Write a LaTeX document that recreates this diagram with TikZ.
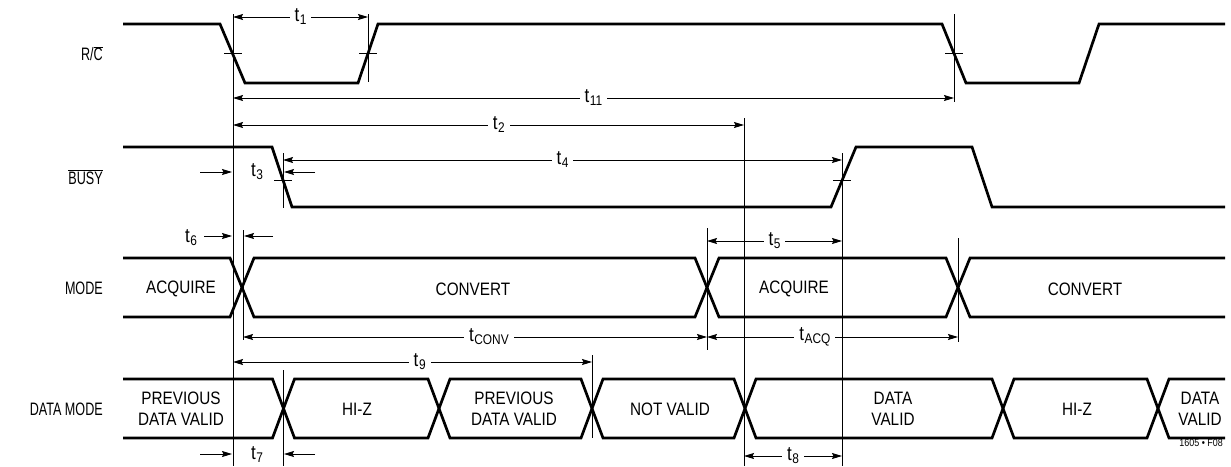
\documentclass[tikz,border=0pt]{standalone}
\usepackage{fontspec}
\setmainfont{Liberation Sans}[FakeStretch=0.85]
\newfontfamily\namefont{Liberation Sans}[FakeStretch=0.7]
\usetikzlibrary{arrows.meta}
\newcommand{\tlab}[1]{{\fontsize{20}{20}\selectfont t}\kern0.6pt\raisebox{-3pt}{\fontsize{14}{14}\selectfont #1}}
\begin{document}
\begin{tikzpicture}[x=1pt,y=-1pt,
  sig/.style={line width=2.7pt, line join=miter},
  thinline/.style={line width=0.9pt},
  dim/.style={line width=0.9pt, {Stealth[length=10pt,width=6pt,inset=1.5pt]}-{Stealth[length=10pt,width=6pt,inset=1.5pt]}},
  rarr/.style={line width=0.9pt, -{Stealth[length=10pt,width=6pt,inset=1.5pt]}},
  lbl/.style={font=\fontsize{18}{21}\selectfont, inner sep=0pt, align=center},
  dl/.style={font=\fontsize{18}{21}\selectfont, fill=white, inner xsep=5pt, inner ysep=0pt},
  sl/.style={font=\namefont\fontsize{18}{21}\selectfont, inner sep=0pt, anchor=east}]
\useasboundingbox (0,0) rectangle (1231,466);

% signal names
\node[sl] (rc) at (103,53.5) {R/$\overline{\mbox{C}}$};
\node[sl] (busy) at (103,177) {$\overline{\mbox{BUSY}}$};
\node[sl] (mode) at (103,288) {MODE};
\node[sl] (dmode) at (103,409) {DATA MODE};

% R/C
\draw[sig] (123,24) -- (220,24) -- (245,83) -- (358,83) -- (378,24) -- (942,24) -- (966,83) -- (1079,83) -- (1099,24) -- (1225,24);
% BUSY
\draw[sig] (123,147) -- (272,147) -- (292,207) -- (831,207) -- (856,147) -- (972,147) -- (992,207) -- (1225,207);
% MODE bus
\draw[sig] (123,258) -- (230,258) -- (254,317) -- (695,317) -- (719,258) -- (946,258) -- (970,317) -- (1225,317);
\draw[sig] (123,317) -- (230,317) -- (254,258) -- (695,258) -- (719,317) -- (946,317) -- (970,258) -- (1225,258);
% DATA MODE bus
\draw[sig] (123,379) -- (272.5,379) -- (294.5,438) -- (428,438) -- (450,379) -- (581,379) -- (603,438) -- (734,438) -- (756,379) -- (992,379) -- (1014,438) -- (1147,438) -- (1169,379) -- (1225,379);
\draw[sig] (123,438) -- (272.5,438) -- (294.5,379) -- (428,379) -- (450,438) -- (581,438) -- (603,379) -- (734,379) -- (756,438) -- (992,438) -- (1014,379) -- (1147,379) -- (1169,438) -- (1225,438);

% reference lines
\draw[thinline] (233,14) -- (233,466);
\draw[thinline] (368,14) -- (368,82);
\draw[thinline] (954,14) -- (954,102);
\draw[thinline] (283,153) -- (283,208);
\draw[thinline] (744,118) -- (744,466);
\draw[thinline] (842,153) -- (842,466);
\draw[thinline] (243,230) -- (243,340);
\draw[thinline] (707,228) -- (707,350);
\draw[thinline] (958,238) -- (958,342);
\draw[thinline] (592,355) -- (592,438);
\draw[thinline] (283,370) -- (283,466);

% ticks
\draw[thinline] (224,53.5) -- (242,53.5);
\draw[thinline] (359,53.5) -- (377,53.5);
\draw[thinline] (945,53.5) -- (963,53.5);
\draw[thinline] (274,180) -- (292,180);
\draw[thinline] (833,180) -- (851,180);

% dimensions
\draw[dim] (233,17) -- node[dl] (t1) {\tlab{1}} (368,17);
\draw[dim] (233,98) -- node[dl] (t11) {\tlab{11}} (954,98);
\draw[dim] (233,125) -- node[dl,pos=.52] (t2) {\tlab{2}} (744,125);
\draw[dim] (283,160) -- node[dl] (t4) {\tlab{4}} (842,160);
\draw[rarr] (200,172) -- (232,172);
\node[lbl] (t3) at (257,172) {\tlab{3}};
\draw[rarr] (315,172) -- (284,172);
\node[lbl] (t6) at (191,238) {\tlab{6}};
\draw[rarr] (204,236) -- (232,236);
\draw[rarr] (273,236) -- (244,236);
\draw[dim] (707,241) -- node[dl] (t5) {\tlab{5}} (842,241);
\draw[dim] (243,337) -- node[dl,pos=.53] (tconv) {\tlab{CONV}} (707,337);
\draw[dim] (707,337) -- node[dl,pos=.43] (tacq) {\tlab{ACQ}} (958,337);
\draw[dim] (233,362) -- node[dl,pos=.52] (t9) {\tlab{9}} (592,362);
\draw[rarr] (200,454) -- (232,454);
\node[lbl] (t7) at (257,455) {\tlab{7}};
\draw[rarr] (315,454) -- (284,454);
\draw[dim] (744,456) -- node[dl] (t8) {\tlab{8}} (842,456);

% bus contents
\node[lbl] (m1) at (181,289) {ACQUIRE};
\node[lbl] (m2) at (473,289) {CONVERT};
\node[lbl] (m3) at (794,289) {ACQUIRE};
\node[lbl] (m4) at (1085,289) {CONVERT};
\node[lbl] (d1) at (181,409) {PREVIOUS\\DATA VALID};
\node[lbl] (d2) at (357,409) {HI-Z};
\node[lbl] (d3) at (514,409) {PREVIOUS\\DATA VALID};
\node[lbl] (d4) at (670,409) {NOT VALID};
\node[lbl] (d5) at (893,409) {DATA\\VALID};
\node[lbl] (d6) at (1077,409) {HI-Z};
\node[lbl] (d7) at (1200,409) {DATA\\VALID};
\node[anchor=east, inner sep=0pt, font=\fontsize{10.5}{12}\selectfont] (fig) at (1223,443) {1605 • F08};
\end{tikzpicture}
\end{document}
